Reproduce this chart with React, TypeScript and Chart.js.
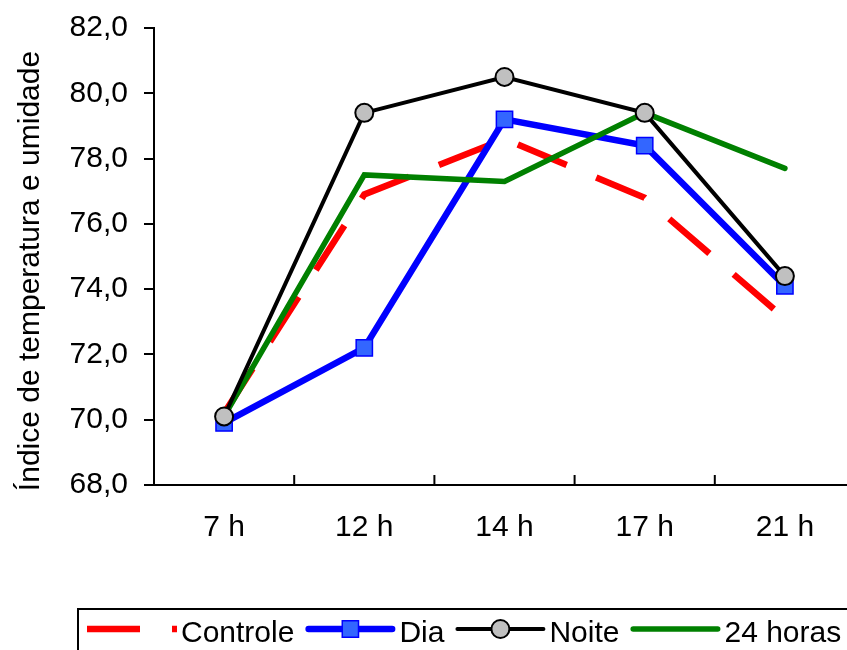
import React, { useEffect, useRef } from 'react';
import { Chart, registerables } from 'chart.js';

Chart.register(...registerables);

const categories = ['7 h', '12 h', '14 h', '17 h', '21 h'];
const controleValues = [70.2, 76.9, 78.6, 76.8, 73.1];
const diaValues = [69.9, 72.2, 79.2, 78.4, 74.1];
const noiteValues = [70.1, 79.4, 80.5, 79.4, 74.4];
const horas24Values = [70.1, 77.5, 77.3, 79.4, 77.7];
const yMin = 68;
const yMax = 82;
const yStep = 2;
const yTitle = 'Índice de temperatura e umidade';
const seriesNames = ['Controle', 'Dia', 'Noite', '24 horas'];

const FONT = "'Liberation Sans', Arial, sans-serif";

function drawMarker(ctx: CanvasRenderingContext2D, style: string, x: number, y: number, r: number, fill: string, stroke: string, bw: number) {
  if (!r) return;
  ctx.beginPath();
  if (style === 'rect') {
    const s = r * Math.SQRT1_2;
    ctx.rect(x - s, y - s, 2 * s, 2 * s);
  } else {
    ctx.arc(x, y, r, 0, Math.PI * 2);
  }
  ctx.fillStyle = fill;
  ctx.fill();
  ctx.lineWidth = bw;
  ctx.strokeStyle = stroke;
  ctx.stroke();
}

const customPlugin = {
  id: 'customDecor',
  afterDraw(chart: any) {
    const ctx: CanvasRenderingContext2D = chart.ctx;
    const area = chart.chartArea;
    const xs = chart.scales.x;

    ctx.save();
    // inward category boundary ticks
    const step = xs.getPixelForValue(1) - xs.getPixelForValue(0);
    ctx.strokeStyle = '#000';
    ctx.lineWidth = 2;
    for (let i = 0; i <= categories.length; i++) {
      const px = xs.getPixelForValue(0) - step / 2 + i * step;
      ctx.beginPath();
      ctx.moveTo(px, area.bottom);
      ctx.lineTo(px, area.bottom - 10);
      ctx.stroke();
    }
    ctx.restore();

    // y axis title
    ctx.save();
    ctx.font = `30px ${FONT}`;
    ctx.fillStyle = '#000';
    ctx.translate(38.5, (area.top + area.bottom) / 2 + 14.5);
    ctx.rotate(-Math.PI / 2);
    ctx.textAlign = 'center';
    ctx.textBaseline = 'alphabetic';
    ctx.fillText(yTitle, 0, 0);
    ctx.restore();

    // legend
    ctx.save();
    ctx.strokeStyle = '#000';
    ctx.lineWidth = 2;
    ctx.strokeRect(78, 609, 900, 100);
    ctx.font = `30px ${FONT}`;
    ctx.textBaseline = 'alphabetic';
    ctx.textAlign = 'left';
    const lineY = 629;
    const lineLen = 90;
    let x = 87;
    chart.data.datasets.forEach((ds: any) => {
      const cap = ds.borderCapStyle === 'round' ? ds.borderWidth / 2 : 0;
      ctx.beginPath();
      ctx.setLineDash(ds.borderDash || []);
      ctx.lineCap = ds.borderCapStyle || 'butt';
      ctx.lineWidth = ds.borderWidth;
      ctx.strokeStyle = ds.borderColor;
      ctx.moveTo(x + cap, lineY);
      ctx.lineTo(x + lineLen - cap, lineY);
      ctx.stroke();
      ctx.setLineDash([]);
      drawMarker(ctx, ds.pointStyle, x + lineLen / 2, lineY, ds.pointRadius, ds.pointBackgroundColor, ds.pointBorderColor, ds.pointBorderWidth);
      const tx = x + lineLen + 4;
      ctx.fillStyle = '#000';
      ctx.fillText(ds.label, tx, 642);
      x = tx + ctx.measureText(ds.label).width + 11;
    });
    ctx.restore();
  },
};

export default function App() {
  const canvasRef = useRef<HTMLCanvasElement | null>(null);

  useEffect(() => {
    const canvas = canvasRef.current;
    if (!canvas) return;
    const chart = new Chart(canvas, {
      type: 'line',
      data: {
        labels: categories,
        datasets: [
          {
            label: seriesNames[0],
            data: controleValues,
            borderColor: '#FF0000',
            backgroundColor: '#FF0000',
            borderWidth: 6.5,
            borderDash: [53, 32],
            borderCapStyle: 'butt',
            pointRadius: 0,
            pointHoverRadius: 0,
            order: 4,
          },
          {
            label: seriesNames[1],
            data: diaValues,
            borderColor: '#0000FF',
            backgroundColor: '#3366FF',
            borderWidth: 6.5,
            borderCapStyle: 'round',
            pointStyle: 'rect',
            pointRadius: 11.5,
            pointBackgroundColor: '#3366FF',
            pointBorderColor: '#0000FF',
            pointBorderWidth: 1.5,
            order: 3,
          },
          {
            label: seriesNames[2],
            data: noiteValues,
            borderColor: '#000000',
            backgroundColor: '#C0C0C0',
            borderWidth: 4,
            borderCapStyle: 'round',
            pointStyle: 'circle',
            pointRadius: 9,
            pointBackgroundColor: '#C0C0C0',
            pointBorderColor: '#000000',
            pointBorderWidth: 2,
            order: 1,
          },
          {
            label: seriesNames[3],
            data: horas24Values,
            borderColor: '#008000',
            backgroundColor: '#008000',
            borderWidth: 5.5,
            borderCapStyle: 'round',
            pointRadius: 0,
            pointHoverRadius: 0,
            order: 2,
          },
        ],
      } as any,
      options: {
        responsive: false,
        animation: false,
        events: [],
        layout: { padding: { top: 28, left: 0, right: 6, bottom: 105 } },
        plugins: {
          legend: { display: false },
          tooltip: { enabled: false },
          title: { display: false },
        },
        scales: {
          x: {
            type: 'category',
            offset: true,
            afterFit: (scale: any) => {
              scale.height = 60;
              scale.paddingLeft = 0;
              scale.paddingRight = 0;
            },
            grid: { display: true, drawOnChartArea: false, drawTicks: false },
            border: { display: true, color: '#000', width: 2 },
            ticks: {
              color: '#000',
              font: { family: FONT, size: 30 },
              padding: 25,
              maxRotation: 0,
              autoSkip: false,
            },
          },
          y: {
            min: yMin,
            max: yMax,
            afterFit: (scale: any) => {
              scale.width = 154;
              scale.paddingTop = 0;
              scale.paddingBottom = 0;
            },
            grid: {
              display: true,
              drawOnChartArea: false,
              drawTicks: true,
              tickLength: 10,
              color: '#000',
              lineWidth: 2,
            },
            border: { display: true, color: '#000', width: 2 },
            ticks: {
              stepSize: yStep,
              color: '#000',
              font: { family: FONT, size: 30 },
              padding: 16,
              callback: (v: any) => Number(v).toFixed(1).replace('.', ','),
            },
          },
        },
      } as any,
      plugins: [customPlugin],
    });
    return () => chart.destroy();
  }, []);

  return (
    <div
      style={{
        position: 'fixed',
        left: 0,
        top: 0,
        width: 847,
        height: 650,
        overflow: 'hidden',
        background: '#fff',
      }}
    >
      <canvas ref={canvasRef} width={868} height={650} style={{ display: 'block', width: 868, height: 650 }} />
    </div>
  );
}
